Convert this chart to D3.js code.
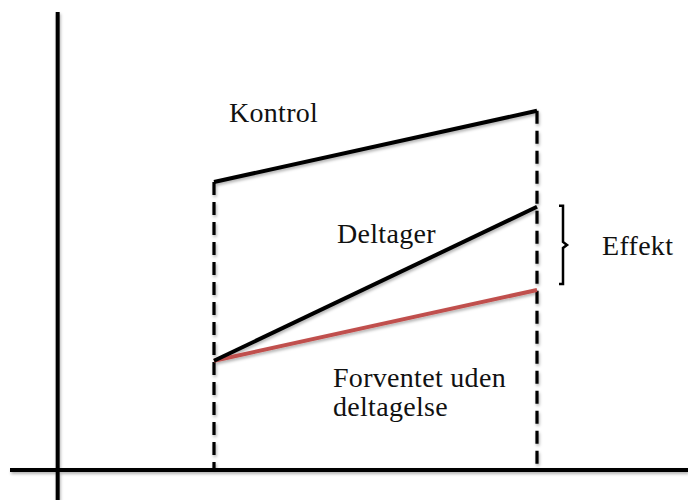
<!DOCTYPE html>
<html>
<head>
<meta charset="utf-8">
<script src="https://cdn.jsdelivr.net/npm/d3@7"></script>
<style>
  body { margin: 0; background: #fff; }
  text { font-family: "Liberation Serif", "DejaVu Serif", serif; fill: #111; letter-spacing: 0.3px; }
</style>
</head>
<body>
<div id="chart"></div>
<script>
// data: two time points (før / efter), outcome level
const periods = [0, 1];
const kontrol = [72, 89.8];
const deltager = [27.3, 65.8];
const forventet = [27.3, 45];
const labels = ["Kontrol", "Deltager", "Forventet uden", "deltagelse", "Effekt"];

const width = 688, height = 500;

const svg = d3.select("#chart").append("svg")
    .attr("width", width)
    .attr("height", height);

// subtle shadow like the original drawing
const defs = svg.append("defs");
defs.append("filter").attr("id", "shadow")
    .attr("x", "-10%").attr("y", "-10%").attr("width", "120%").attr("height", "120%")
  .append("feDropShadow")
    .attr("dx", 1).attr("dy", 2)
    .attr("stdDeviation", 1.5)
    .attr("flood-color", "#000")
    .attr("flood-opacity", 0.3);

const x = d3.scaleLinear().domain([0, 1]).range([214, 537]);
const y = d3.scaleLinear().domain([0, 100]).range([470, 70]);

const g = svg.append("g").attr("filter", "url(#shadow)");

// axes
g.append("line")
    .attr("x1", x(-0.484)).attr("x2", x(-0.484))
    .attr("y1", y(114.5)).attr("y2", height)
    .attr("stroke", "#000").attr("stroke-width", 4);
g.append("line")
    .attr("x1", 10).attr("x2", width)
    .attr("y1", y(0)).attr("y2", y(0))
    .attr("stroke", "#000").attr("stroke-width", 4);

// dashed verticals
const tops = [kontrol[0], kontrol[1]];
g.selectAll("line.drop")
  .data(periods)
  .join("line")
    .attr("class", "drop")
    .attr("x1", d => x(d)).attr("x2", d => x(d))
    .attr("y1", d => y(tops[d]))
    .attr("y2", y(0))
    .attr("stroke", "#000")
    .attr("stroke-width", 3.2)
    .attr("stroke-dasharray", "13,7");

const line = d3.line()
    .x((d, i) => x(periods[i]))
    .y(d => y(d));

g.append("path").datum(forventet)
    .attr("d", line)
    .attr("fill", "none")
    .attr("stroke", "#c0504d")
    .attr("stroke-width", 4);

g.append("path").datum(deltager)
    .attr("d", line)
    .attr("fill", "none")
    .attr("stroke", "#000")
    .attr("stroke-width", 4);

g.append("path").datum(kontrol)
    .attr("d", line)
    .attr("fill", "none")
    .attr("stroke", "#000")
    .attr("stroke-width", 4);

// effect bracket
const bTop = y(deltager[1]) - 1, bBot = y(forventet[1]) - 6;
const bx = x(1) + 26, bMid = (bTop + bBot) / 2;
svg.append("path")
    .attr("d", `M${bx - 4},${bTop} L${bx},${bTop} L${bx},${bMid - 3} L${bx + 4},${bMid} L${bx},${bMid + 3} L${bx},${bBot} L${bx - 4},${bBot}`)
    .attr("fill", "none")
    .attr("stroke", "#000")
    .attr("stroke-width", 2.5);

// labels
const fs = 28;
svg.append("text").attr("x", 229).attr("y", 122).attr("font-size", fs).text(labels[0]);
svg.append("text").attr("x", 337).attr("y", 243).attr("font-size", fs).text(labels[1]);
svg.append("text").attr("x", 333).attr("y", 387).attr("font-size", fs).text(labels[2]);
svg.append("text").attr("x", 333).attr("y", 416).attr("font-size", fs).text(labels[3]);
svg.append("text").attr("x", 602).attr("y", 255).attr("font-size", fs).text(labels[4]);
</script>
</body>
</html>
